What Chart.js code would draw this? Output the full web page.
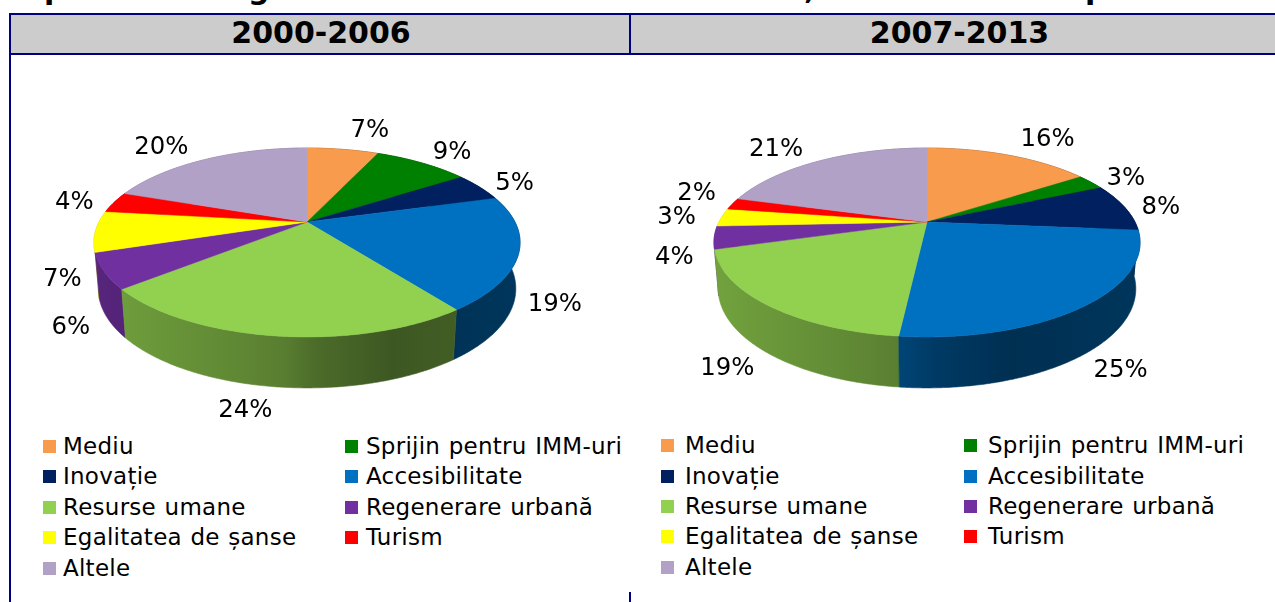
<!DOCTYPE html>
<html lang="ro">
<head>
<meta charset="utf-8">
<title>2000-2006 / 2007-2013</title>
<script src="https://cdn.jsdelivr.net/npm/chart.js@4"></script>
<style>
  html, body { margin: 0; padding: 0; background: #fff; }
  body { position: relative; width: 1275px; height: 602px; overflow: hidden;
         font-family: "DejaVu Sans", sans-serif; color: #000; }
  .abs { position: absolute; }
  .rule { position: absolute; background: #000080; }
  .head { position: absolute; top: 15px; height: 38px; line-height: 35px; background: #ccc;
          text-align: center; font-weight: bold; font-size: 30px; }
  canvas { position: absolute; top: 14px; }
  .lg { position: absolute; font-size: 23px; line-height: 30px; white-space: nowrap; letter-spacing: 0.25px; word-spacing: 1px; }
  .sw { position: absolute; width: 13px; height: 13px; }
  .cut { position: absolute; top: -26px; font-weight: bold; font-size: 30px; line-height: 30px; }
</style>
</head>
<body>
<script>
const categories = ["Mediu", "Sprijin pentru IMM-uri", "Inovație", "Accesibilitate", "Resurse umane",
                    "Regenerare urbană", "Egalitatea de șanse", "Turism", "Altele"];
const sliceColors = ["#f99b4d", "#008000", "#002060", "#0070c0", "#92d050",
                     "#7030a0", "#ffff00", "#ff0000", "#b2a1c7"];
const values2000 = [6.7, 8.9, 4.9, 19.4, 24, 6, 7, 3.6, 19.5];
const values2007 = [15.5, 2.7, 8.2, 25.3, 18.7, 3.9, 3.1, 2.0, 20.6];
const periods = ["2000-2006", "2007-2013"];
const labelOffsets2000 = [[27,-19],[30,-10],[35,-3],[36,52],[-30,75],[-33,57],[-33,48],[-40,0],[-44,-12]];
const labelOffsets2007 = [[39,-16],[35,-3],[36,0],[35,65],[-40,64],[-40,20],[-45,0],[-36,-10],[-44,-11]];
const titleScraps = [["p", 44], ["g", 248], [",", 804], ["p", 1085]];

// Perspective of the tilted disc: the hub sits above the middle of the visible ellipse.
const tilt = { persp: -0.217, squash: 0.4327, depth: 0.245, bottomScale: 0.98 };
const wallShade = [[0, 0.78], [0.35, 0.65], [0.45, 0.60], [0.52, 0.52], [0.70, 0.42], [1, 0.48]];

function project(el, angle, r) {
  const u = r * Math.cos(angle), v = r * Math.sin(angle);   // Chart.js angles start at -PI/2
  const w = 1 + tilt.persp * v;
  return { x: el.x + el.outerRadius * u / w,
           y: el.y + el.outerRadius * tilt.squash * v / w, v };
}
function projectBottom(el, angle) {
  const p = project(el, angle, 1);
  const d = el.outerRadius * tilt.depth * (0.88 + 0.12 * p.v);
  return { x: el.x + (p.x - el.x) * tilt.bottomScale, y: p.y + d };
}
function shade(hex, f) {
  const n = parseInt(hex.slice(1), 16);
  const c = [n >> 16 & 255, n >> 8 & 255, n & 255].map(ch => Math.round(ch * f));
  return `rgb(${c[0]},${c[1]},${c[2]})`;
}
function arcSteps(a0, a1) {
  const out = [], n = Math.max(2, Math.ceil((a1 - a0) / 0.01));
  for (let i = 0; i <= n; i++) out.push(a0 + (a1 - a0) * i / n);
  return out;
}

const tiltedPie = {
  id: "tiltedPie",
  beforeDatasetsDraw(chart, args, opts) {
    const ctx = chart.ctx, arcs = chart.getDatasetMeta(0).data;
    const colors = chart.data.datasets[0].backgroundColor;
    const order = arcs.map((a, i) => i).sort((i, j) =>
      Math.sin((arcs[i].startAngle + arcs[i].endAngle) / 2) - Math.sin((arcs[j].startAngle + arcs[j].endAngle) / 2));
    ctx.save();
    // Side wall
    order.forEach(i => {
      const el = arcs[i], steps = arcSteps(el.startAngle, el.endAngle);
      const g = ctx.createLinearGradient(el.x - el.outerRadius * 1.03, 0, el.x + el.outerRadius * 1.03, 0);
      wallShade.forEach(([t, f]) => g.addColorStop(t, shade(colors[i], f)));
      ctx.fillStyle = g; ctx.strokeStyle = g; ctx.lineWidth = 0.6;
      ctx.beginPath();
      steps.forEach((a, n) => { const p = project(el, a, 1); n ? ctx.lineTo(p.x, p.y) : ctx.moveTo(p.x, p.y); });
      steps.slice().reverse().forEach(a => { const p = projectBottom(el, a); ctx.lineTo(p.x, p.y); });
      ctx.closePath(); ctx.fill(); ctx.stroke();
    });
    // Top face
    arcs.forEach((el, i) => {
      ctx.fillStyle = colors[i]; ctx.strokeStyle = colors[i]; ctx.lineWidth = 0.5;
      ctx.beginPath(); ctx.moveTo(el.x, el.y);
      arcSteps(el.startAngle, el.endAngle).forEach(a => { const p = project(el, a, 1); ctx.lineTo(p.x, p.y); });
      ctx.closePath(); ctx.fill(); ctx.stroke();
    });
    // Percentage labels
    ctx.fillStyle = "#000";
    ctx.font = opts.font;
    ctx.textAlign = "center"; ctx.textBaseline = "middle";
    arcs.forEach((el, i) => {
      const p = project(el, (el.startAngle + el.endAngle) / 2, 1);
      const [dx, dy] = opts.offsets[i];
      ctx.fillText(Math.round(chart.data.datasets[0].data[i]) + "%", p.x + dx, p.y + dy);
    });
    ctx.restore();
    return false;
  }
};

function addEl(cls, style, text) {
  const d = document.createElement("div");
  d.className = cls;
  Object.assign(d.style, style);
  if (text) d.textContent = text;
  document.body.appendChild(d);
  return d;
}

function makePie(left, values, offsets) {
  const c = document.createElement("canvas");
  c.width = 600; c.height = 416;
  c.style.left = left + "px"; c.style.width = "600px"; c.style.height = "416px";
  document.body.appendChild(c);
  new Chart(c, {
    type: "pie",
    data: { labels: categories, datasets: [{ data: values, backgroundColor: sliceColors, borderWidth: 0 }] },
    options: {
      responsive: false, animation: false, events: [],
      layout: { padding: 0 },
      plugins: { legend: { display: false }, tooltip: { enabled: false },
                 tiltedPie: { offsets, font: '24.4px "DejaVu Sans"' } }
    },
    plugins: [tiltedPie]
  });
}

function makeLegend(swatchX, textX, swatchX2, textX2, rows) {
  categories.forEach((name, i) => {
    const col = i % 2, row = Math.floor(i / 2), y = rows[row];
    addEl("sw", { left: (col ? swatchX2 : swatchX) + "px", top: (y - 6) + "px", background: sliceColors[i] });
    addEl("lg", { left: (col ? textX2 : textX) + "px", top: (y - 15) + "px" }, name);
  });
}

// Frame and headers
titleScraps.forEach(([t, x]) => addEl("cut", { left: x + "px" }, t));
addEl("head", { left: "11px", width: "620px" }, periods[0]);
addEl("head", { left: "631px", width: "657px" }, periods[1]);
addEl("rule", { left: "9px", top: "13px", width: "1266px", height: "2px" });
addEl("rule", { left: "9px", top: "53px", width: "1266px", height: "2px" });
addEl("rule", { left: "9px", top: "13px", width: "2px", height: "589px" });
addEl("rule", { left: "629px", top: "13px", width: "2px", height: "40px" });
addEl("rule", { left: "629px", top: "592px", width: "2px", height: "10px" });

makePie(7, values2000, labelOffsets2000);
makePie(627, values2007, labelOffsets2007);
makeLegend(43, 63, 345, 366, [446, 476, 507, 537, 568]);
makeLegend(661, 685, 964, 988, [445, 476, 506, 536, 567]);
</script>
</body>
</html>
